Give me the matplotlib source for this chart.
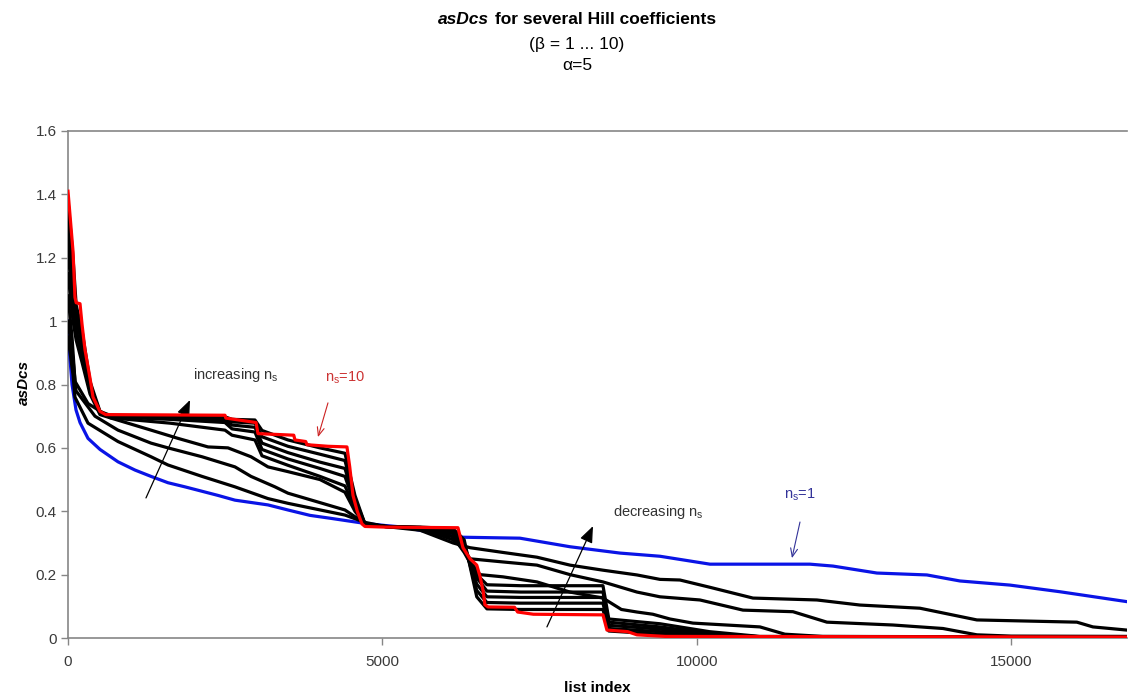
import matplotlib
matplotlib.use("Agg")
import matplotlib.pyplot as plt
from matplotlib.ticker import FuncFormatter

plt.rcParams['font.family'] = ['Liberation Sans', 'DejaVu Sans']
plt.rcParams['mathtext.fontset'] = 'custom'
plt.rcParams['mathtext.rm'] = 'Liberation Sans'
plt.rcParams['mathtext.it'] = 'Liberation Sans:italic'

# ---------------- data ----------------
# ns = 1 (blue)
ns1_x = [0, 32, 64, 127, 191, 318, 509, 795, 1065, 1320, 1590, 1860, 2385, 2655, 3180, 3498,
         3848, 4166, 4675, 5040, 5327, 5867, 6281, 7187, 7982, 8777, 9413, 10208, 11798,
         12164, 12863, 13658, 14183, 14978, 15773, 17000]
ns1_y = [1.00, 0.88, 0.80, 0.72, 0.68, 0.63, 0.595, 0.556, 0.53, 0.51, 0.49, 0.477, 0.45, 0.435,
         0.42, 0.404, 0.387, 0.378, 0.363, 0.355, 0.35, 0.33, 0.318, 0.315, 0.288, 0.268, 0.258,
         0.233, 0.233, 0.227, 0.205, 0.199, 0.18, 0.167, 0.146, 0.11]

# ns = 2 (black)
ns2_x = [0, 80, 111, 318, 795, 1320, 1590, 2131, 2655, 3180, 3498, 4404, 4722, 5040, 5600, 6122,
         6392, 6917, 7457, 7982, 8507, 9047, 9413, 9731, 10208, 10892, 11909, 12593, 13547,
         14453, 16043, 16298, 17000]
ns2_y = [0.95, 0.83, 0.76, 0.678, 0.62, 0.572, 0.546, 0.51, 0.477, 0.44, 0.425, 0.388, 0.365,
         0.352, 0.34, 0.30, 0.285, 0.27, 0.255, 0.23, 0.214, 0.199, 0.185, 0.183, 0.16, 0.126,
         0.12, 0.104, 0.094, 0.057, 0.05, 0.035, 0.022]

# ns = 3 (black)
ns3_x = [0, 80, 127, 429, 795, 1320, 1590, 2131, 2655, 2910, 3291, 3498, 4404, 4643, 4722, 5040,
         5600, 6122, 6300, 6392, 6917, 7457, 7982, 8507, 9047, 9413, 10049, 10733, 11528, 12068,
         13118, 13913, 14453, 15000, 17000]
ns3_y = [1.00, 0.88, 0.78, 0.70, 0.656, 0.615, 0.60, 0.572, 0.54, 0.51, 0.477, 0.457, 0.404,
         0.372, 0.36, 0.352, 0.345, 0.31, 0.28, 0.25, 0.24, 0.23, 0.20, 0.177, 0.145, 0.13, 0.12,
         0.088, 0.083, 0.05, 0.041, 0.03, 0.01, 0.006, 0.005]

# ns = 4 (black)
ns4_x = [0, 64, 111, 318, 684, 1320, 1749, 2226, 2544, 2910, 3180, 3498, 4007, 4404, 4563, 4722,
         5040, 5600, 6122, 6250, 6400, 6551, 6917, 7457, 7982, 8507, 8800, 9047, 9300, 9572,
         9938, 11003, 11400, 12000, 17000]
ns4_y = [1.08, 0.95, 0.81, 0.74, 0.694, 0.656, 0.63, 0.603, 0.60, 0.572, 0.54, 0.525, 0.50, 0.46,
         0.40, 0.36, 0.352, 0.348, 0.32, 0.30, 0.24, 0.20, 0.193, 0.177, 0.145, 0.126, 0.09,
         0.082, 0.075, 0.06, 0.047, 0.035, 0.012, 0.005, 0.003]

# ns = 5 .. 9 (black, upper cluster); shared index positions
clu_x = [0, 80, 130, 223, 350, 509, 668, 1622, 2496, 2608, 2973, 3085, 3498, 4007, 4404, 4563,
         4722, 5040, 5600, 6122, 6300, 6500, 6662, 7200, 8507, 8600, 9413, 10200, 11000, 17000]
ns5_y = [1.15, 1.00, 0.94, 0.87, 0.77, 0.705, 0.695, 0.678, 0.656, 0.64, 0.625, 0.575, 0.545,
         0.51, 0.48, 0.41, 0.36, 0.352, 0.345, 0.32, 0.27, 0.20, 0.168, 0.165, 0.165, 0.06,
         0.045, 0.02, 0.005, 0.003]
ns6_y = [1.22, 1.05, 0.97, 0.90, 0.78, 0.71, 0.698, 0.69, 0.68, 0.66, 0.65, 0.595, 0.565,
         0.535, 0.51, 0.42, 0.36, 0.352, 0.347, 0.33, 0.28, 0.19, 0.148, 0.145, 0.145, 0.05,
         0.035, 0.015, 0.004, 0.003]
ns7_y = [1.28, 1.10, 1.00, 0.93, 0.79, 0.71, 0.70, 0.694, 0.688, 0.672, 0.665, 0.615, 0.585,
         0.555, 0.535, 0.43, 0.36, 0.352, 0.348, 0.335, 0.29, 0.17, 0.13, 0.128, 0.128, 0.04,
         0.028, 0.01, 0.004, 0.003]
ns8_y = [1.33, 1.15, 1.02, 0.95, 0.80, 0.712, 0.70, 0.697, 0.693, 0.682, 0.678, 0.635, 0.605,
         0.58, 0.56, 0.44, 0.36, 0.352, 0.349, 0.34, 0.30, 0.15, 0.112, 0.11, 0.11, 0.03,
         0.02, 0.007, 0.004, 0.003]
ns9_y = [1.38, 1.20, 1.05, 0.97, 0.81, 0.715, 0.703, 0.70, 0.698, 0.69, 0.688, 0.655, 0.625,
         0.60, 0.583, 0.45, 0.36, 0.352, 0.35, 0.345, 0.31, 0.13, 0.092, 0.09, 0.09, 0.022,
         0.012, 0.005, 0.004, 0.003]

# ns = 10 (red)
ns10_x = [0, 80, 111, 130, 191, 223, 270, 350, 398, 509, 600, 2496, 2510, 2990, 3021, 3590,
          3609, 3780, 3800, 4134, 4436, 4480, 4532, 4600, 4675, 4722, 5040, 6201, 6230, 6281,
          6392, 6500, 6551, 6600, 6630, 6680, 7100, 7150, 7400, 8507, 8570, 8900, 9047, 9500,
          17000]
ns10_y = [1.41, 1.22, 1.075, 1.058, 1.055, 0.99, 0.91, 0.82, 0.76, 0.715, 0.705, 0.703, 0.694,
          0.68, 0.645, 0.64, 0.625, 0.62, 0.61, 0.605, 0.603, 0.54, 0.45, 0.40, 0.36, 0.352,
          0.35, 0.348, 0.325, 0.285, 0.25, 0.23, 0.195, 0.15, 0.105, 0.098, 0.097, 0.082,
          0.075, 0.073, 0.025, 0.02, 0.01, 0.005, 0.003]

x_ticks = [0, 5000, 10000, 15000]
y_ticks = [0, 0.2, 0.4, 0.6, 0.8, 1.0, 1.2, 1.4, 1.6]

# ---------------- figure ----------------
W, H = 1128, 697
fig = plt.figure(figsize=(W / 100, H / 100), dpi=100)
ax = fig.add_axes([68 / W, 59 / H, (1127 - 68) / W, 507 / H])

grey = '#868686'
lw = 2.3
ax.plot(ns1_x, ns1_y, color='#0a14e6', lw=lw, zorder=3)
ax.plot(ns2_x, ns2_y, color='black', lw=lw, zorder=3)
ax.plot(ns3_x, ns3_y, color='black', lw=lw, zorder=3)
ax.plot(ns4_x, ns4_y, color='black', lw=lw, zorder=3)
for yy in [ns5_y, ns6_y, ns7_y, ns8_y, ns9_y]:
    ax.plot(clu_x, yy, color='black', lw=lw, zorder=3)
ax.plot(ns10_x, ns10_y, color='#ff0000', lw=lw, zorder=4)

ax.set_xlim(0, 16840)
ax.set_ylim(0, 1.6)
ax.set_xticks(x_ticks)
ax.set_yticks(y_ticks)
ax.yaxis.set_major_formatter(FuncFormatter(lambda v, p: '%g' % round(v, 2)))
ax.tick_params(axis='both', direction='out', length=5, width=1, color=grey,
               labelsize=11, labelcolor='#3a3a3a')
ax.tick_params(axis='x', pad=7)
ax.tick_params(axis='y', pad=3)
for s in ['left', 'bottom', 'top']:
    ax.spines[s].set_color(grey)
    ax.spines[s].set_linewidth(1.2)
ax.spines['right'].set_visible(False)

fig.text(597 / W, 1 - 688 / H, 'list index', ha='center', va='center', fontsize=11,
         fontweight='bold')
fig.text(24 / W, 1 - 383 / H, 'asDcs', ha='center', va='center', fontsize=11,
         fontweight='bold', style='italic', rotation=90)

# ---------------- title ----------------
cx = 577
fs_t = 12.5
r = fig.canvas.get_renderer()
t1 = fig.text(0, 1 - 20 / H, 'asDcs', ha='left', va='center', fontsize=fs_t,
              fontweight='bold', style='italic')
t2 = fig.text(0, 1 - 20 / H, 'for several Hill coefficients', ha='left', va='center',
              fontsize=fs_t, fontweight='bold')
w1 = t1.get_window_extent(r).width
w2 = t2.get_window_extent(r).width
gap = 6
x0 = cx - (w1 + gap + w2) / 2
t1.set_x(x0 / W)
t2.set_x((x0 + w1 + gap) / W)
fig.text(cx / W, 1 - 44 / H, '(\u03b2 = 1 ... 10)', ha='center', va='center', fontsize=fs_t)
fig.text(cx / W, 1 - 65 / H, '\u03b1=5', ha='center', va='center', fontsize=fs_t)

# ---------------- annotations ----------------
fs_a = 10.5
ax.annotate('', xy=(1940, 0.751), xytext=(1240, 0.442),
            arrowprops=dict(arrowstyle='-|>,head_length=1.0,head_width=0.4', color='black',
                            lw=0.9, shrinkA=0, shrinkB=0))
ax.text(1988, 0.83, r'increasing n$_\mathrm{s}$', fontsize=fs_a, color='#333333', va='center')

ax.annotate('', xy=(8348, 0.353), xytext=(7616, 0.035),
            arrowprops=dict(arrowstyle='-|>,head_length=1.0,head_width=0.4', color='black',
                            lw=0.9, shrinkA=0, shrinkB=0))
ax.text(8666, 0.398, r'decreasing n$_\mathrm{s}$', fontsize=fs_a, color='#333333', va='center')

ax.annotate('', xy=(3975, 0.634), xytext=(4134, 0.742),
            arrowprops=dict(arrowstyle='->,head_length=0.6,head_width=0.25', color='#cc2222',
                            lw=0.8, shrinkA=0, shrinkB=0))
ax.text(4086, 0.82, r'n$_\mathrm{s}$=10', fontsize=fs_a, color='#cc3333', va='center')

ax.annotate('', xy=(11512, 0.252), xytext=(11640, 0.366),
            arrowprops=dict(arrowstyle='->,head_length=0.6,head_width=0.25', color='#333399',
                            lw=0.8, shrinkA=0, shrinkB=0))
ax.text(11385, 0.451, r'n$_\mathrm{s}$=1', fontsize=fs_a, color='#333399', va='center')

fig.savefig('out.png', dpi=100)
